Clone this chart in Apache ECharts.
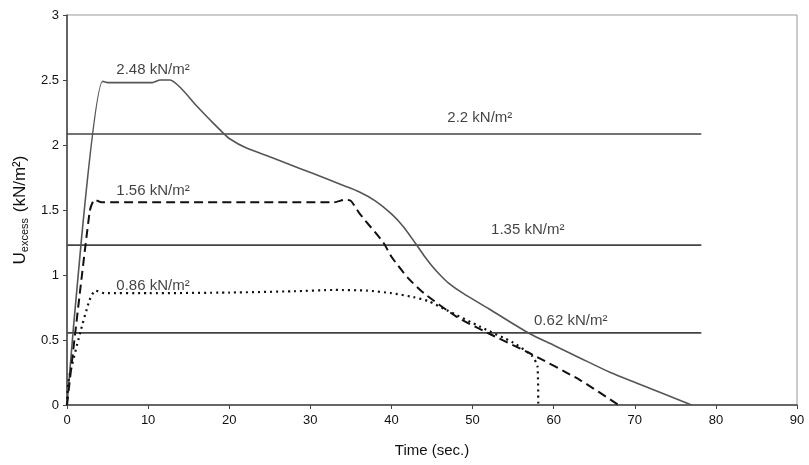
<!DOCTYPE html>
<html>
<head>
<meta charset="utf-8">
<script src="https://cdn.jsdelivr.net/npm/echarts@6/dist/echarts.min.js"></script>
<style>
html,body{margin:0;padding:0;background:#fff;}
#main{width:809px;height:465px;}
</style>
</head>
<body>
<div id="main"></div>
<script>
// curves: [time (s), U excess (kN/m2)]
var peak248 = [[0,0],[4.4,2.49],[5,2.48],[10.5,2.48],[11.5,2.5],[12.7,2.5],[14,2.44],[16,2.3],[18,2.17],[19.3,2.09],[20,2.05],[22,1.98],[25.4,1.9],[28.7,1.82],[32,1.74],[34,1.69],[36,1.64],[38,1.57],[40,1.47],[41.5,1.37],[43,1.24],[44,1.15],[45,1.07],[46,1.0],[47,0.94],[48.8,0.86],[52,0.74],[57,0.55],[60,0.46],[63.3,0.36],[67,0.25],[70.6,0.16],[77,0]];
var peak156 = [[0,0],[2.8,1.49],[3.4,1.58],[4.2,1.56],[33,1.56],[34.3,1.58],[35,1.57],[36.1,1.47],[39,1.25],[40,1.14],[42,0.98],[44,0.86],[48,0.68],[52,0.55],[57,0.4],[63.3,0.19],[68,0]];
var peak086 = [[0,0],[0.2,0.19],[1.6,0.55],[2.8,0.81],[3.5,0.88],[4.6,0.86],[10,0.86],[20,0.865],[28,0.875],[33,0.885],[37,0.88],[40,0.86],[42.7,0.83],[44.5,0.8],[46.8,0.73],[51,0.6],[55,0.48],[57.3,0.38],[58,0.3],[58.1,0]];

// horizontal threshold lines
var limitLevels = [2.085, 1.23, 0.555];
var limitEnd = 78.2;

// text labels: [x, y, text]
var notes = [
  [10.6, 2.58, '2.48 kN/m²'],
  [10.6, 1.65, '1.56 kN/m²'],
  [10.6, 0.92, '0.86 kN/m²'],
  [50.9, 2.21, '2.2 kN/m²'],
  [56.8, 1.35, '1.35 kN/m²'],
  [62.1, 0.65, '0.62 kN/m²']
];

var chart = echarts.init(document.getElementById('main'), null, {renderer:'canvas'});

var series = [];
limitLevels.forEach(function(v){
  series.push({
    type:'line', data:[[0,v],[limitEnd,v]], symbol:'none', silent:true,
    lineStyle:{color:'#444', width:1.6}
  });
});
series.push({
  type:'line', data:peak248, symbol:'none', smooth:0.25,
  lineStyle:{color:'#555', width:1.6}
});
series.push({
  type:'line', data:peak156, symbol:'none', smooth:0.2,
  lineStyle:{color:'#111', width:2, type:[9,5]}
});
series.push({
  type:'line', data:peak086, symbol:'none', smooth:0.2,
  lineStyle:{color:'#111', width:2.2, type:[2,4]}
});
series.push({
  type:'scatter', symbolSize:0, silent:true,
  data:notes.map(function(n){ return {value:[n[0],n[1]], label:{formatter:n[2]}}; }),
  label:{show:true, position:'inside', color:'#111', fontSize:15, fontFamily:'Liberation Sans, Arial'}
});

var option = {
  backgroundColor:'#fff',
  animation:false,
  textStyle:{fontFamily:'Liberation Sans, Arial'},
  grid:{left:67, right:12, top:15, bottom:60, show:true, borderColor:'#999', borderWidth:1},
  xAxis:{
    type:'value', min:0, max:90, interval:10,
    name:'Time (sec.)', nameLocation:'middle', nameGap:38,
    nameTextStyle:{color:'#111', fontSize:15},
    axisLine:{show:true, lineStyle:{color:'#444', width:1.5}},
    axisTick:{show:true, length:4, lineStyle:{color:'#444'}},
    axisLabel:{color:'#111', fontSize:13, margin:9},
    splitLine:{show:false}
  },
  yAxis:{
    type:'value', min:0, max:3, interval:0.5,
    name:'{a|U}{s|excess}{a| (kN/m²)}', nameLocation:'middle', nameGap:36, nameRotate:90,
    nameTextStyle:{
      color:'#111',
      rich:{
        a:{fontSize:17, color:'#111', fontFamily:'Liberation Sans, Arial'},
        s:{fontSize:11, color:'#111', fontFamily:'Liberation Sans, Arial', padding:[8,1,0,0]}
      }
    },
    axisLine:{show:true, lineStyle:{color:'#444', width:1.5}},
    axisTick:{show:true, length:4, lineStyle:{color:'#444'}},
    axisLabel:{color:'#111', fontSize:13, margin:8},
    splitLine:{show:false}
  },
  series:series
};
chart.setOption(option);
</script>
</body>
</html>
